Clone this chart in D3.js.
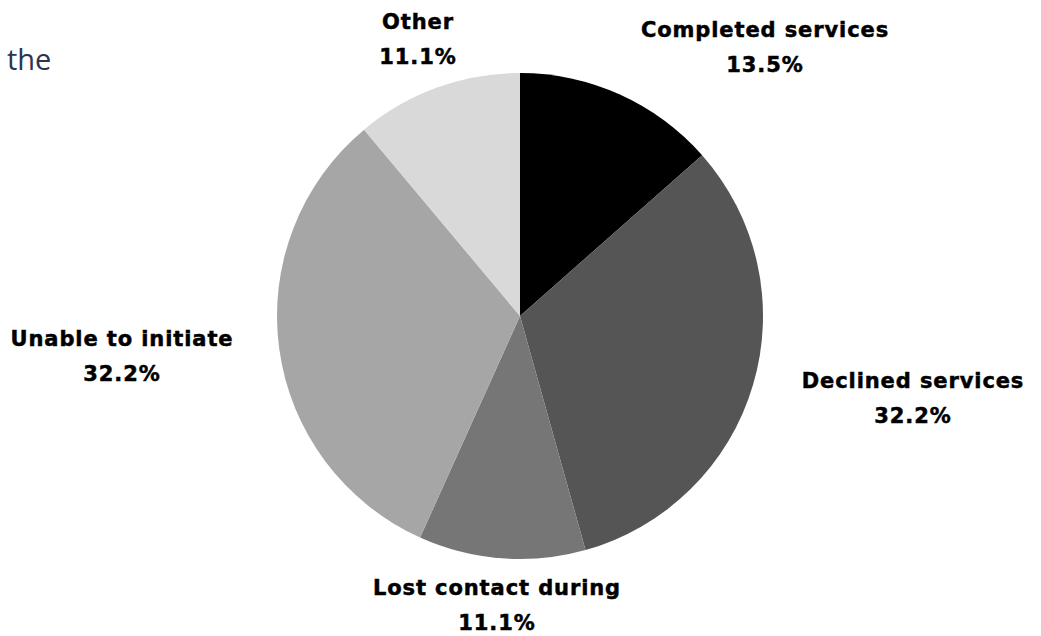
<!DOCTYPE html>
<html>
<head>
<meta charset="utf-8">
<script src="https://cdn.jsdelivr.net/npm/d3@7"></script>
<style>
  body { margin: 0; background: #fff; }
  svg { display: block; }
  .lbl { font-family: "DejaVu Sans", sans-serif; font-weight: 700; font-size: 21px; letter-spacing: 0.9px; fill: #000; stroke: #000; stroke-width: 0.5px; }
  .intro { font-family: "Open Sans", sans-serif; font-weight: 400; font-size: 29px; fill: #2b3450; }
</style>
</head>
<body>
<svg width="1041" height="636"></svg>
<script>
// pie data, clockwise from 12 o'clock
const categories = ["Completed services", "Declined services", "Lost contact during", "Unable to initiate", "Other"];
const shares = [13.5, 32.2, 11.1, 32.2, 11.1];
const colours = ["#000000", "#555555", "#767676", "#a6a6a6", "#d9d9d9"];

// where each label block sits, relative to the pie centre
const labelOffsets = [[245, -269], [393, 82], [-23, 289], [-398, 40], [-102, -277]];

const cx = 520, cy = 316, radius = 243;
const svg = d3.select("svg");

svg.append("text")
    .attr("class", "intro")
    .attr("x", 7)
    .attr("y", 70)
    .text("the");

const dataset = categories.map((c, i) => ({ name: c, value: shares[i], colour: colours[i], off: labelOffsets[i] }));

const pie = d3.pie().sort(null).value(d => d.value);
const arc = d3.arc().innerRadius(0).outerRadius(radius);

const g = svg.append("g").attr("transform", `translate(${cx},${cy})`);

g.selectAll("path")
    .data(pie(dataset))
    .enter()
    .append("path")
    .attr("d", arc)
    .attr("fill", d => d.data.colour);

// labels: name on first line, percentage below
const labels = g.selectAll("text")
    .data(dataset)
    .enter()
    .append("text")
    .attr("class", "lbl")
    .attr("text-anchor", "middle")
    .attr("transform", d => `translate(${d.off[0]},${d.off[1]})`);

labels.append("tspan")
    .attr("x", 0)
    .attr("y", -10)
    .text(d => d.name);

labels.append("tspan")
    .attr("x", 0)
    .attr("y", 25)
    .text(d => d.value.toFixed(1) + "%");
</script>
</body>
</html>
